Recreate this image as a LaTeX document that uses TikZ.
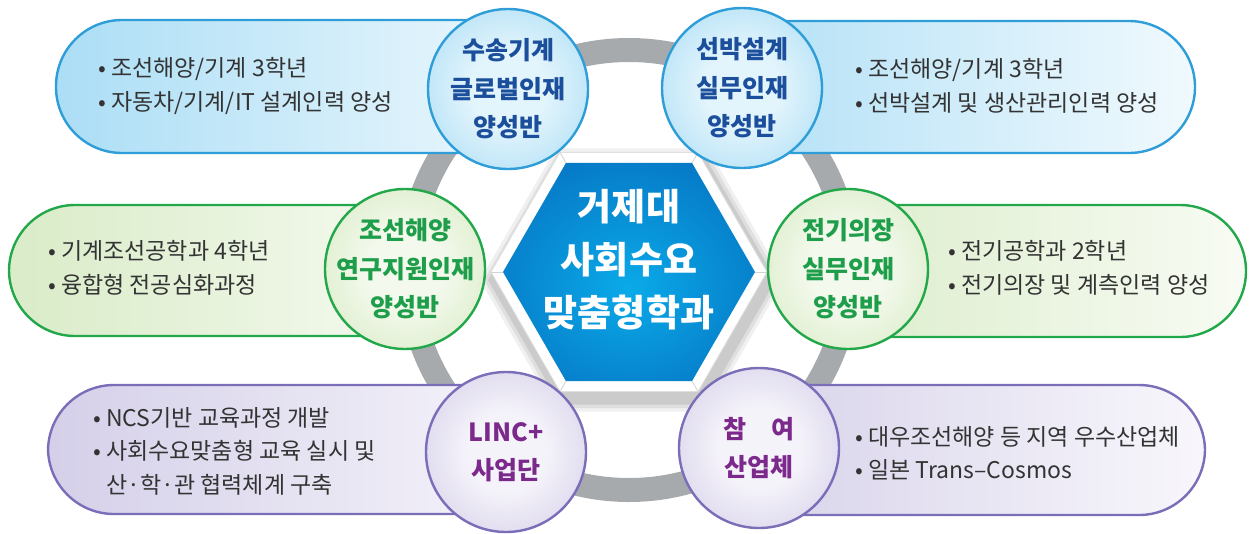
\documentclass[tikz,border=0pt]{standalone}
\usepackage{fontspec}
\newfontfamily\kr{Noto Sans CJK KR}
\definecolor{bodytxt}{HTML}{333333}
\definecolor{ringgray}{HTML}{A7AAAD}
\definecolor{bcIn}{HTML}{E2F4FC}
\definecolor{bcOut}{HTML}{84CEF1}
\definecolor{bBorder}{HTML}{2E9DD8}
\definecolor{bTxt}{HTML}{1B4E9B}
\definecolor{gcIn}{HTML}{F3F9EC}
\definecolor{gcOut}{HTML}{C5E1AA}
\definecolor{gBorder}{HTML}{22A84A}
\definecolor{gTxt}{HTML}{1E9E4A}
\definecolor{pcIn}{HTML}{F5F3FA}
\definecolor{pcOut}{HTML}{BEB6DD}
\definecolor{pBorder}{HTML}{7B6DB8}
\definecolor{pTxt}{HTML}{7B2A8C}
\definecolor{hexIn}{HTML}{0AAAE9}
\definecolor{hexMid}{HTML}{0679C6}
\definecolor{hexOut}{HTML}{0B4B9A}
\pgfdeclareradialshading{bcirc}{\pgfpoint{0bp}{0bp}}{color(0bp)=(bcIn);color(12bp)=(bcIn);color(50bp)=(bcOut)}
\pgfdeclareradialshading{gcirc}{\pgfpoint{0bp}{0bp}}{color(0bp)=(gcIn);color(12bp)=(gcIn);color(50bp)=(gcOut)}
\pgfdeclareradialshading{pcirc}{\pgfpoint{0bp}{0bp}}{color(0bp)=(pcIn);color(12bp)=(pcIn);color(50bp)=(pcOut)}
\pgfdeclareradialshading{hexshade}{\pgfpoint{0bp}{-4bp}}{color(0bp)=(hexIn);color(30bp)=(hexMid);color(55bp)=(hexOut);color(70bp)=(hexOut)}
\tikzset{
  pill/.style={line width=2.4pt, rounded corners=66pt},
  bluepill/.style={pill, draw=bBorder, left color=bcOut!68!white, right color=bcIn!50!white},
  greenpill/.style={pill, draw=gBorder, left color=gcOut!65!white, right color=gcIn!60!white},
  purplepill/.style={pill, draw=pBorder, left color=pcOut!65!white, right color=pcIn!70!white},
  medal/.style={circle, minimum size=160pt, inner sep=0pt, line width=2.4pt},
  bluemedal/.style={medal, draw=bBorder, shading=bcirc},
  greenmedal/.style={medal, draw=gBorder, shading=gcirc},
  purplemedal/.style={medal, draw=pBorder, shading=pcirc},
  body/.style={anchor=west, align=left, inner sep=0pt, text=bodytxt, font=\kr\fontsize{23}{33.5}\selectfont},
  medaltext/.style={align=center, inner sep=0pt, font=\kr\bfseries\fontsize{25}{38.5}\selectfont},
  hextext/.style={align=center, inner sep=0pt, text=white, font=\kr\bfseries\fontsize{37}{53}\selectfont},
}
\begin{document}
\begin{tikzpicture}[x=1pt,y=-1pt]
\useasboundingbox (0,0) rectangle (1249,533);
% gray ring
\draw[ringgray, line width=24pt] (629,270) circle[radius=220pt];
% hexagon frame with soft shadow
\foreach \o/\r in {0.10/152,0.12/148,0.15/144} {
  \fill[black, opacity=\o*0.6] (632,280) +(0:\r) -- +(60:\r) -- +(120:\r) -- +(180:\r) -- +(240:\r) -- +(300:\r) -- cycle;
}
\filldraw[fill=white, draw=gray!25, line width=0.8pt] (629,272) +(0:138) -- +(60:138) -- +(120:138) -- +(180:138) -- +(240:138) -- +(300:138) -- cycle;
\foreach \a in {0,60,...,300} {
  \draw[gray!35, line width=0.8pt] (629,272) +(\a:126) -- +(\a:138);
}
% blue hexagon
\path[shading=hexshade] (629,272) +(0:126) -- +(60:126) -- +(120:126) -- +(180:126) -- +(240:126) -- +(300:126) -- cycle;
\node[hextext] (hex) at (629,260) {거제대\\사회수요\\맞춤형학과};
% pills
\path[bluepill] (56,20) rectangle (560,153);
\path[bluepill] (690,21) rectangle (1195,153);
\path[greenpill] (9,205) rectangle (460,336);
\path[greenpill] (795,205) rectangle (1246,337);
\path[purplepill] (48,385) rectangle (560,514);
\path[purplepill] (705,385) rectangle (1205,515);
% pill texts
\node[body] (t1) at (98,86) {• 조선해양/기계 3학년\\• 자동차/기계/IT 설계인력 양성};
\node[body] (t2) at (855,86) {• 조선해양/기계 3학년\\• 선박설계 및 생산관리인력 양성};
\node[body] (t3) at (48,268) {• 기계조선공학과 4학년\\• 융합형 전공심화과정};
\node[body] (t4) at (948,268) {• 전기공학과 2학년\\• 전기의장 및 계측인력 양성};
\node[body] (t5) at (93,451) {• NCS기반 교육과정 개발\\• 사회수요맞춤형 교육 실시 및\\\phantom{• }산·학·관 협력체계 구축};
\node[body] (t6) at (855,453) {• 대우조선해양 등 지역 우수산업체\\• 일본 Trans–Cosmos};
% medallions
\node[bluemedal] (c1) at (508,89) {};
\node[bluemedal] (c2) at (742,88) {};
\node[greenmedal] (c3) at (405,269) {};
\node[greenmedal] (c4) at (848,269) {};
\node[purplemedal] (c5) at (506,452) {};
\node[purplemedal] (c6) at (759,448) {};
\node[medaltext, text=bTxt] (l1) at (c1) {수송기계\\글로벌인재\\양성반};
\node[medaltext, text=bTxt] (l2) at (c2) {선박설계\\실무인재\\양성반};
\node[medaltext, text=gTxt] (l3) at (c3) {조선해양\\연구지원인재\\양성반};
\node[medaltext, text=gTxt] (l4) at (c4) {전기의장\\실무인재\\양성반};
\node[medaltext, text=pTxt] (l5) at (c5) {LINC+\\사업단};
\node[medaltext, text=pTxt] (l6) at (c6) {참\hspace{1em}여\\산업체};
\end{tikzpicture}
\end{document}
